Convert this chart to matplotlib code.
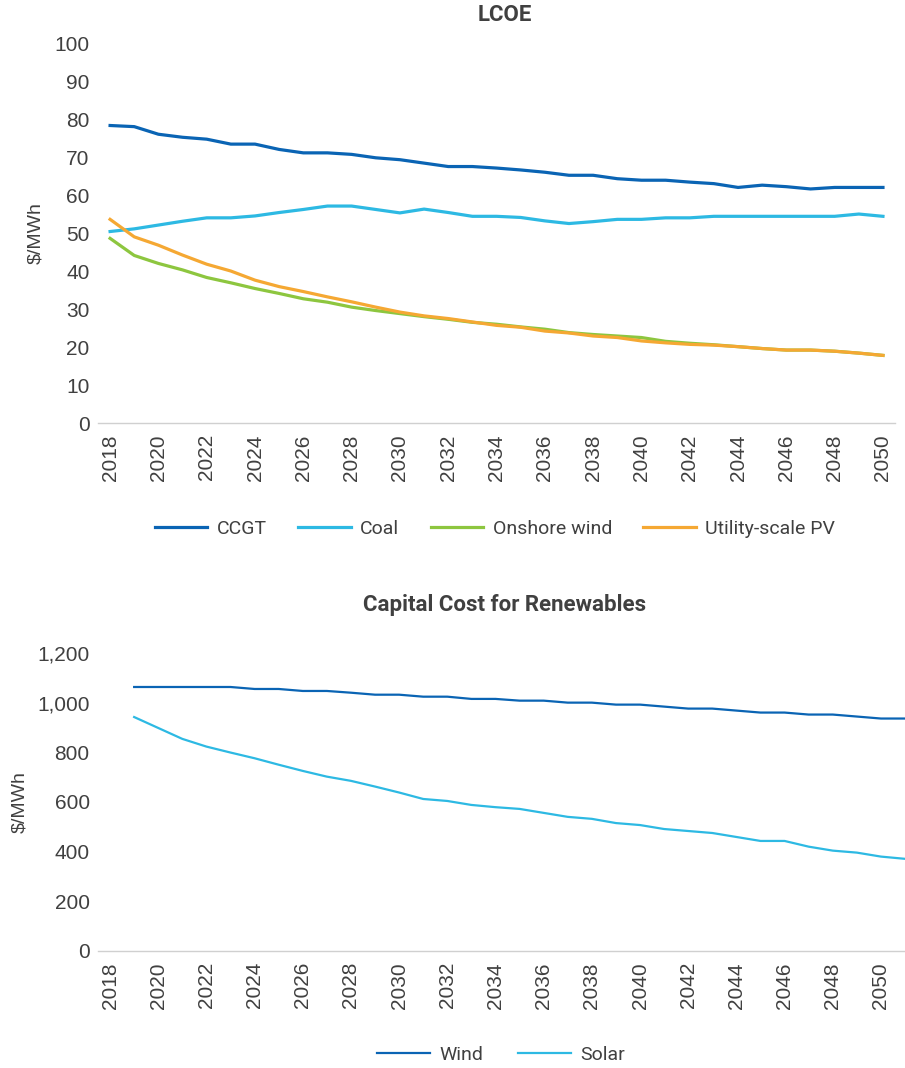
import matplotlib
matplotlib.use('Agg')
import matplotlib.pyplot as plt
from matplotlib.ticker import FuncFormatter

years_lcoe = list(range(2018, 2051))
ccgt = [78.3, 78.0, 76.0, 75.2, 74.7, 73.4, 73.4, 72.0, 71.1, 71.1, 70.7, 69.8, 69.3,
        68.4, 67.5, 67.5, 67.1, 66.6, 66.0, 65.2, 65.2, 64.3, 63.9, 63.9, 63.4, 63.0,
        62.0, 62.6, 62.2, 61.6, 62.0, 62.0, 62.0]
coal = [50.4, 51.1, 52.1, 53.1, 54.0, 54.0, 54.5, 55.4, 56.2, 57.1, 57.1, 56.2, 55.3,
        56.3, 55.4, 54.4, 54.4, 54.1, 53.2, 52.5, 53.0, 53.6, 53.6, 54.0, 54.0, 54.4,
        54.4, 54.4, 54.4, 54.4, 54.4, 55.0, 54.4]
onshore_wind = [48.6, 44.1, 42.0, 40.3, 38.3, 36.9, 35.4, 34.1, 32.7, 31.8, 30.5, 29.6,
                28.8, 28.0, 27.3, 26.5, 26.0, 25.3, 24.7, 23.8, 23.3, 22.9, 22.5, 21.5,
                21.0, 20.6, 20.1, 19.6, 19.2, 19.2, 18.9, 18.4, 17.8]
utility_pv = [53.6, 49.0, 46.8, 44.2, 41.8, 40.0, 37.6, 35.9, 34.6, 33.2, 31.9, 30.5,
              29.2, 28.2, 27.5, 26.6, 25.7, 25.2, 24.2, 23.7, 22.9, 22.5, 21.6, 21.1,
              20.7, 20.5, 20.1, 19.6, 19.2, 19.2, 18.9, 18.4, 17.8]

years_cap = list(range(2019, 2052))
wind_cap = [1063, 1063, 1063, 1063, 1063, 1055, 1055, 1047, 1047, 1040, 1032, 1032,
            1024, 1024, 1015, 1015, 1008, 1008, 1000, 1000, 992, 992, 984, 976, 976,
            968, 960, 960, 952, 952, 944, 936, 936]
solar_cap = [942, 898, 854, 823, 799, 776, 750, 725, 702, 685, 662, 638, 612, 604, 588,
             579, 572, 556, 540, 532, 515, 507, 491, 483, 475, 459, 443, 443, 420, 404,
             396, 380, 371]

year_ticks = list(range(2018, 2051, 2))

dark_blue = '#0A64B4'
light_blue = '#2DB9E3'
green = '#8DC63F'
orange = '#F5A833'
txt = '#404040'
tick_font = 'Liberation Sans'
lab_font = 'Roboto'

fig = plt.figure(figsize=(9.05, 10.68), dpi=100)
ax1 = fig.add_axes([0.1083, 0.6039, 0.8807, 0.3558])
ax2 = fig.add_axes([0.1083, 0.1096, 0.8917, 0.2790])


def style(ax):
    for s in ['top', 'right', 'left']:
        ax.spines[s].set_visible(False)
    ax.spines['bottom'].set_color('#D0D0D0')
    ax.spines['bottom'].set_linewidth(1.0)
    ax.tick_params(axis='y', length=0, labelsize=15, labelcolor=txt, pad=6)
    ax.tick_params(axis='x', length=0, labelsize=15, labelcolor=txt, pad=8)
    ax.set_xticks(year_ticks)
    ax.set_xticklabels([str(y) for y in year_ticks], rotation=90, family=tick_font)
    for lab in ax.get_yticklabels():
        lab.set_family(tick_font)


ax1.plot(years_lcoe, ccgt, color=dark_blue, lw=2.3, label='CCGT')
ax1.plot(years_lcoe, coal, color=light_blue, lw=2.3, label='Coal')
ax1.plot(years_lcoe, onshore_wind, color=green, lw=2.3, label='Onshore wind')
ax1.plot(years_lcoe, utility_pv, color=orange, lw=2.3, label='Utility-scale PV')
ax1.set_xlim(2017.5, 2050.5)
ax1.set_ylim(0, 100)
ax1.set_yticks(range(0, 101, 10))
style(ax1)
ax1.set_ylabel('$/MWh', fontsize=14, color=txt, family=tick_font)
ax1.yaxis.set_label_coords(-0.068, 0.5)
fig.text(0.558, 0.986, 'LCOE', ha='center', va='center', fontsize=16,
         fontweight='bold', color=txt, family=lab_font)
leg = ax1.legend(loc='center', bbox_to_anchor=(0.547, 0.505),
                 bbox_transform=fig.transFigure, frameon=False, ncol=4,
                 handlelength=2.7, handletextpad=0.5, columnspacing=1.6,
                 prop={'family': lab_font, 'size': 14})
for t in leg.get_texts():
    t.set_color(txt)

ax2.plot(years_cap, wind_cap, color=dark_blue, lw=1.6, label='Wind')
ax2.plot(years_cap, solar_cap, color=light_blue, lw=1.6, label='Solar')
ax2.set_xlim(2017.5, 2051.0)
ax2.set_ylim(0, 1200)
ax2.set_yticks(range(0, 1201, 200))
ax2.yaxis.set_major_formatter(FuncFormatter(lambda v, p: f'{int(v):,}'))
style(ax2)
ax2.set_ylabel('$/MWh', fontsize=14, color=txt, family=tick_font)
ax2.yaxis.set_label_coords(-0.086, 0.5)
fig.text(0.558, 0.4335, 'Capital Cost for Renewables', ha='center', va='center',
         fontsize=16, fontweight='bold', color=txt, family=lab_font)
leg2 = ax2.legend(loc='center', bbox_to_anchor=(0.554, 0.012),
                  bbox_transform=fig.transFigure, frameon=False, ncol=2,
                  handlelength=2.7, handletextpad=0.5, columnspacing=1.8,
                  prop={'family': lab_font, 'size': 14})
for t in leg2.get_texts():
    t.set_color(txt)

fig.savefig('out.png', dpi=100, facecolor='white')
